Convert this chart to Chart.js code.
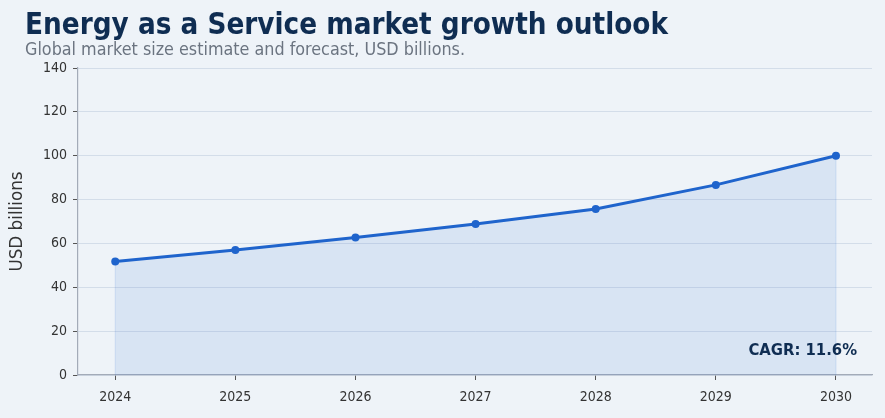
<!DOCTYPE html>
<html>
<head>
<meta charset="utf-8">
<script src="https://cdn.jsdelivr.net/npm/chart.js@4/dist/chart.umd.min.js"></script>
<style>
  html, body { margin: 0; padding: 0; background: #eef3f8; }
  #wrap { position: relative; width: 885px; height: 418px; }
  #title {
    position: absolute; left: 25px; top: 7px;
    font-family: "DejaVu Sans Condensed", "DejaVu Sans", sans-serif;
    font-stretch: condensed; font-weight: bold; font-size: 29.3px;
    color: #0f2d52; white-space: nowrap;
  }
  #subtitle {
    position: absolute; left: 25px; top: 38px;
    font-family: "DejaVu Sans Condensed", "DejaVu Sans", sans-serif;
    font-stretch: condensed; font-size: 17.8px;
    color: #6b7480; white-space: nowrap;
  }
  canvas { position: absolute; left: 0; top: 0; }
</style>
</head>
<body>
<div id="wrap">
  <canvas id="chart" width="885" height="418"></canvas>
  <div id="title">Energy as a Service market growth outlook</div>
  <div id="subtitle">Global market size estimate and forecast, USD billions.</div>
</div>
<script>
const years = [2024, 2025, 2026, 2027, 2028, 2029, 2030];
const market_size = [51.8, 57.0, 62.7, 68.9, 75.7, 86.7, 100.0];
const y_ticks = [0, 20, 40, 60, 80, 100, 120, 140];
const cagr_label = "CAGR: 11.6%";

const cond = "'DejaVu Sans Condensed', 'DejaVu Sans', sans-serif";
const blue = "#1f64cc";

// the filled area has thin vertical edges at both ends
const first = { x: years[0], y: market_size[0] };
const last = { x: years[years.length - 1], y: market_size[market_size.length - 1] };
const edge = (p) => ({
    data: [{ x: p.x, y: 0 }, p],
    borderColor: "rgba(31,100,204,0.14)",
    borderWidth: 1,
    pointRadius: 0,
    fill: false,
});

const cagr_plugin = {
    id: "cagr",
    afterDatasetsDraw(chart) {
        const { ctx, chartArea } = chart;
        ctx.save();
        ctx.font = "bold 16.5px " + cond;
        ctx.fillStyle = "#0f2d52";
        ctx.textAlign = "right";
        ctx.textBaseline = "middle";
        ctx.fillText(cagr_label, chartArea.right - 15, chartArea.bottom - 24);
        ctx.restore();
    },
};

const ctx = document.getElementById("chart").getContext("2d");
new Chart(ctx, {
    type: "line",
    data: {
        datasets: [
            edge(first),
            edge(last),
            {
                data: years.map((y, i) => ({ x: y, y: market_size[i] })),
                borderColor: blue,
                backgroundColor: "rgba(31,100,204,0.1)",
                borderWidth: 3,
                pointRadius: 4,
                pointBackgroundColor: blue,
                pointBorderWidth: 0,
                fill: "origin",
                tension: 0,
            },
        ],
    },
    options: {
        responsive: false,
        animation: false,
        layout: { padding: { left: 0, right: 13, top: 68, bottom: 0 } },
        plugins: {
            legend: { display: false },
            tooltip: { enabled: false },
        },
        scales: {
            x: {
                type: "linear",
                min: 2023.69,
                max: 2030.3,
                afterBuildTicks: (scale) => {
                    scale.ticks = years.map((v) => ({ value: v }));
                },
                afterFit: (scale) => { scale.height = 43; },
                ticks: {
                    callback: (v) => String(v),
                    font: { family: cond, size: 14 },
                    color: "#333",
                    padding: 9,
                },
                grid: {
                    drawOnChartArea: false,
                    drawTicks: true,
                    tickLength: 5,
                    tickColor: "#555",
                },
                border: { color: "#a3abb8", width: 1.2 },
            },
            y: {
                min: 0,
                max: 140,
                afterBuildTicks: (scale) => {
                    scale.ticks = y_ticks.map((v) => ({ value: v }));
                },
                afterFit: (scale) => { scale.width = 78; },
                ticks: {
                    font: { family: cond, size: 14 },
                    color: "#333",
                    padding: 6,
                },
                grid: {
                    color: "rgba(190,202,220,0.55)",
                    tickColor: "#555",
                    tickLength: 5,
                },
                border: { color: "#a3abb8", width: 1.2 },
                title: {
                    display: true,
                    text: "USD billions",
                    font: { family: "'DejaVu Sans', sans-serif", size: 16.8 },
                    color: "#333",
                    padding: { top: 8, bottom: 0 },
                },
            },
        },
    },
    plugins: [cagr_plugin],
});
</script>
</body>
</html>
